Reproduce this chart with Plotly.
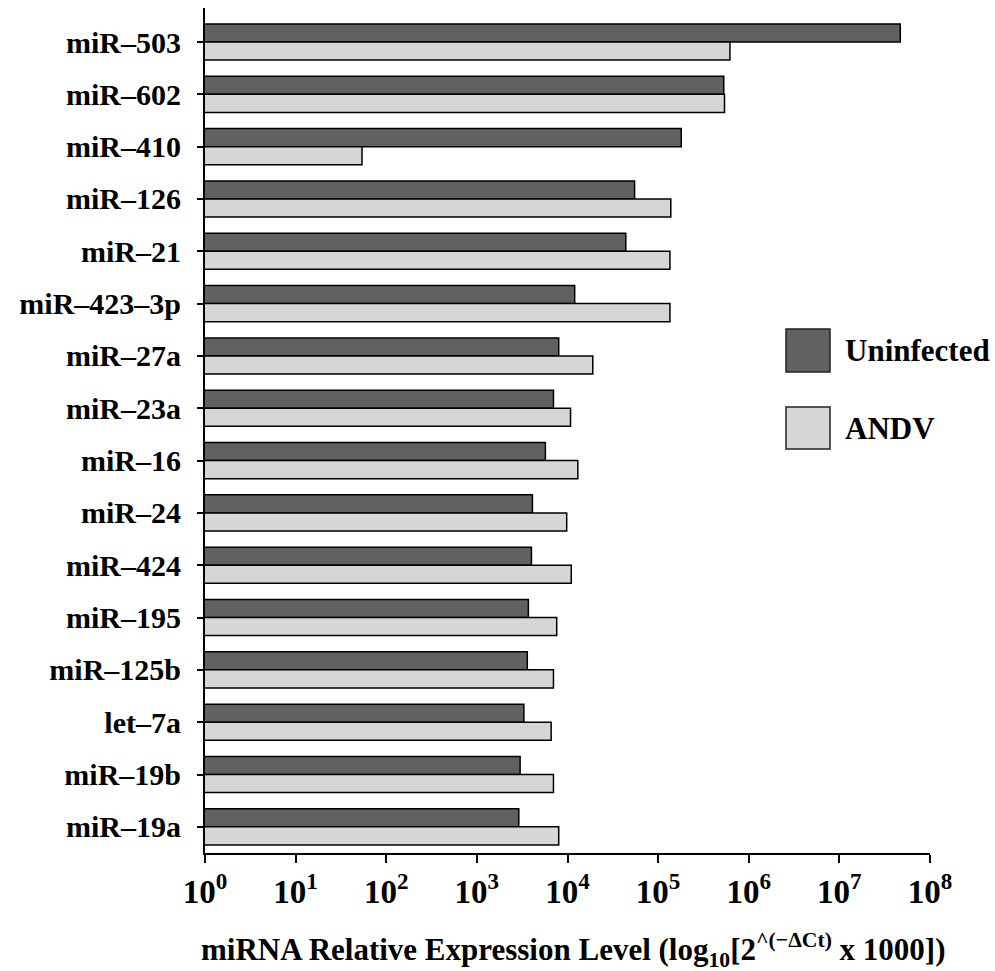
import plotly.graph_objects as go

mirnas = ["miR–503", "miR–602", "miR–410", "miR–126", "miR–21", "miR–423–3p",
          "miR–27a", "miR–23a", "miR–16", "miR–24", "miR–424", "miR–195",
          "miR–125b", "let–7a", "miR–19b", "miR–19a"]
uninfected = [4.7e7, 5.3e5, 1.8e5, 5.5e4, 4.4e4, 1.2e4,
              8.0e3, 7.0e3, 5.7e3, 4.1e3, 4.0e3, 3.7e3,
              3.6e3, 3.3e3, 3.0e3, 2.9e3]
andv = [6.2e5, 5.4e5, 54, 1.38e5, 1.35e5, 1.35e5,
        1.9e4, 1.08e4, 1.3e4, 9.8e3, 1.1e4, 7.6e3,
        7.0e3, 6.6e3, 7.0e3, 8.0e3]
tick_vals = [1, 10, 100, 1e3, 1e4, 1e5, 1e6, 1e7, 1e8]
tick_text = ["<b>10<sup>%d</sup></b>" % i for i in range(9)]
series_names = ["Uninfected", "ANDV"]
series_colors = ["#616161", "#d6d6d6"]

FONT = "Liberation Serif"

fig = go.Figure()
for name, vals, col in zip(series_names, [uninfected, andv], series_colors):
    fig.add_trace(go.Bar(
        y=mirnas, x=vals, orientation="h", name=name,
        marker=dict(color=col, line=dict(color="black", width=1.5)),
        showlegend=False,
    ))

fig.update_layout(
    width=995, height=971,
    margin=dict(l=205, r=65, t=8, b=118),
    paper_bgcolor="white", plot_bgcolor="white",
    barmode="group", bargap=0.31, bargroupgap=0,
    font=dict(family=FONT, color="black"),
)
fig.update_xaxes(
    type="log", range=[0, 8],
    tickvals=tick_vals, ticktext=tick_text,
    tickfont=dict(family=FONT, size=33, color="black"),
    showline=True, linecolor="black", linewidth=2,
    ticks="outside", ticklen=8, tickwidth=1.5, tickcolor="black",
    showgrid=False, zeroline=False,
)
fig.update_yaxes(
    type="category", categoryorder="array", categoryarray=mirnas,
    range=[15.5, -0.65],
    tickvals=mirnas, ticktext=["<b>%s</b>" % m for m in mirnas],
    tickfont=dict(family=FONT, size=30, color="black"),
    showline=True, linecolor="black", linewidth=2,
    ticks="outside", ticklen=6, tickwidth=1.5, tickcolor="black",
    ticklabelstandoff=10,
    showgrid=False, zeroline=False,
)

# axis title
fig.add_annotation(
    text="<b>miRNA Relative Expression Level (log<sub>10</sub>[2<sup>^(−ΔCt)</sup> x 1000])</b>",
    xref="paper", yref="paper", x=0.508, y=0, yshift=-97,
    xanchor="center", yanchor="middle", showarrow=False,
    font=dict(family=FONT, size=31, color="black"),
)

# legend drawn manually (paper coords, from page pixels)
W, H = 725.0, 845.0
def px(x):
    return (x - 205) / W
def py(y):
    return (853 - y) / H

legend_rows = [(329, 372), (407, 449)]
for (y0, y1), name, col in zip(legend_rows, series_names, series_colors):
    fig.add_shape(type="rect", xref="paper", yref="paper",
                  x0=px(786), x1=px(830), y0=py(y1), y1=py(y0),
                  fillcolor=col, line=dict(color="#222", width=1.5))
    fig.add_annotation(text="<b>%s</b>" % name, xref="paper", yref="paper",
                       x=px(843), y=py((y0 + y1) / 2), xanchor="left", yanchor="middle",
                       showarrow=False, font=dict(family=FONT, size=31, color="black"))

fig.write_html("out.html",
               config={"displayModeBar": False},
               post_script="document.body.style.margin='0';document.body.style.overflow='hidden';")
